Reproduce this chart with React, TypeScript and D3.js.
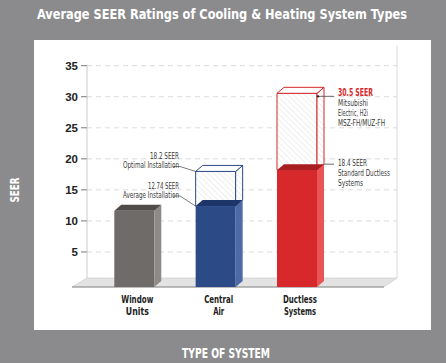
import * as d3 from "d3";

const categories = ["Window Units", "Central Air", "Ductless Systems"];
const categoryLines = [["Window", "Units"], ["Central", "Air"], ["Ductless", "Systems"]];
const categoryWidths = [[32, 23], [29, 11], [34, 32]];
const averageValues = [12, 12.74, 18.4];
const optimalValues = [null, 18.2, 30.5];
const yTicks = [5, 10, 15, 20, 25, 30, 35];

const barColors = [
  { front: "#6f6b69", side: "#8d8a88", top: "#4f4c4a", line: "#6f6b69" },
  { front: "#2c4a86", side: "#4b6aa6", top: "#1d3569", line: "#2c4a86" },
  { front: "#d7282b", side: "#e95457", top: "#a81d20", line: "#d7282b" },
];

const W = 446;
const H = 363;
const floorFront = 287;
const floorBack = 278;
const wallLeft = 87;
const wallRight = 397;
const barW = 40;
const dx = 7;
const dy = -6;

const cond = "'DejaVu Sans Condensed', 'Liberation Sans Narrow', sans-serif";

function Fit(props: { x: number; y: number; w: number; children: string; anchor?: string; size?: number; bold?: boolean; fill?: string }) {
  return (
    <text
      x={props.x}
      y={props.y}
      textAnchor={props.anchor || "start"}
      textLength={props.w}
      lengthAdjust="spacingAndGlyphs"
      fontFamily={cond}
      fontSize={props.size || 8.4}
      fontWeight={props.bold ? "bold" : "normal"}
      fill={props.fill || "#3a3a3a"}
    >
      {props.children}
    </text>
  );
}

export default function App() {
  const yBack = d3.scaleLinear().domain([0, 35]).range([283, 65.7]);
  const yFront = d3.scaleLinear().domain([0, 35]).range([floorFront, floorFront - 35 * 6.35]);
  const x = d3.scalePoint<string>().domain(categories).range([134.3, 297]);

  const box = (i: number, v0: number, v1: number, filled: boolean) => {
    const cx = x(categories[i])!;
    const x0 = cx - barW / 2;
    const x1 = cx + barW / 2;
    const yt = yFront(v1);
    const yb = yFront(v0);
    const c = barColors[i];
    const side = `M${x1},${yt}L${x1 + dx},${yt + dy}L${x1 + dx},${yb + dy}L${x1},${yb}Z`;
    const top = `M${x0},${yt}L${x0 + dx},${yt + dy}L${x1 + dx},${yt + dy}L${x1},${yt}Z`;
    if (filled) {
      return (
        <g key={`b${i}`}>
          <rect x={x0} y={yt} width={barW} height={yb - yt} fill={c.front} />
          <path d={side} fill={c.side} />
          <path d={top} fill={c.top} />
        </g>
      );
    }
    return (
      <g key={`w${i}`} stroke={c.line} strokeWidth={1} strokeLinejoin="round">
        <rect x={x0} y={yt} width={barW} height={yb - yt} fill="url(#hatch)" />
        <path d={side} fill="url(#hatch)" />
        <path d={top} fill="#fff" />
      </g>
    );
  };

  const central = x(categories[1])!;
  const ductless = x(categories[2])!;

  return (
    <svg width={W} height={H} style={{ position: "absolute", left: 0, top: 0 }}>
      <defs>
        <pattern id="hatch" width={4} height={4} patternUnits="userSpaceOnUse" patternTransform="rotate(-45)">
          <rect width={4} height={4} fill="#fff" />
          <line x1={0} y1={0} x2={0} y2={4} stroke="#d4d4d4" strokeWidth={0.8} />
        </pattern>
      </defs>
      <rect width={W} height={H} fill="#8b8b8d" />
      <Fit x={222} y={18.5} w={370} anchor="middle" size={14.5} bold fill="#fff">
        Average SEER Ratings of Cooling &amp; Heating System Types
      </Fit>
      <rect x={34} y={40} width={397} height={290} fill="#fff" />
      <text transform="translate(19,190) rotate(-90)" textAnchor="middle" fill="#fff" fontFamily={cond} fontWeight="bold" fontSize={12} textLength={25} lengthAdjust="spacingAndGlyphs">
        SEER
      </text>
      <Fit x={226} y={358} w={88} anchor="middle" size={14} bold fill="#fff">
        TYPE OF SYSTEM
      </Fit>

      {/* back wall grid */}
      {yTicks.map((t) => (
        <g key={t}>
          <line x1={wallLeft} x2={wallRight} y1={yBack(t)} y2={yBack(t)} stroke="#d2d2d2" strokeDasharray="5,4" strokeWidth={0.8} />
          <line x1={wallLeft - 6} x2={wallLeft} y1={yBack(t)} y2={yBack(t)} stroke="#555" strokeWidth={0.8} />
          <text x={wallLeft - 9} y={yBack(t) + 4} textAnchor="end" fontFamily="'Liberation Sans', Arial, sans-serif" fontWeight="bold" fontSize={11.5} fill="#222">
            {t}
          </text>
        </g>
      ))}
      <line x1={wallLeft} x2={wallLeft} y1={yBack(35) - 1} y2={floorBack} stroke="#bdbdbd" strokeWidth={0.8} />
      <line x1={wallRight} x2={wallRight} y1={yBack(35) - 20} y2={floorBack} stroke="#d0d0d0" strokeWidth={0.8} />

      {/* floor */}
      <path d={`M${wallLeft},${floorBack}L${wallRight},${floorBack}L${wallRight - 13},${floorFront}L${wallLeft - 15},${floorFront}Z`} fill="#e3e3e3" stroke="#c8c8c8" strokeWidth={0.6} />
      <line x1={wallLeft - 15} x2={wallRight - 13} y1={floorFront} y2={floorFront} stroke="#8a8a8a" strokeWidth={1} />

      {/* optimal wireframes */}
      {optimalValues.map((v, i) => (v == null ? null : box(i, averageValues[i], v, false)))}
      {/* average bars */}
      {averageValues.map((v, i) => box(i, 0, v, true))}

      {/* central air annotations */}
      <Fit x={179} y={158.5} w={29} anchor="end">18.2 SEER</Fit>
      <Fit x={179} y={168} w={56} anchor="end">Optimal Installation</Fit>
      <Fit x={179} y={189} w={31} anchor="end">12.74 SEER</Fit>
      <Fit x={179} y={198} w={56} anchor="end">Average Installation</Fit>
      <path d={`M173,166.5H${180}L${central - barW / 2},${yFront(18.2)}`} fill="none" stroke="#444" strokeWidth={0.7} />
      <path d={`M173,196H${180}L${central - barW / 2},${yFront(12.74)}`} fill="none" stroke="#444" strokeWidth={0.7} />

      {/* ductless annotations */}
      <Fit x={338} y={96} w={35} size={11} bold fill="#d7282b">30.5 SEER</Fit>
      <Fit x={338} y={106} w={30}>Mitsubishi</Fit>
      <Fit x={338} y={116} w={30}>Electric, H2i</Fit>
      <Fit x={338} y={126} w={47}>MSZ-FH/MUZ-FH</Fit>
      <Fit x={338} y={166} w={29}>18.4 SEER</Fit>
      <Fit x={338} y={176} w={52}>Standard Ductless</Fit>
      <Fit x={338} y={186} w={25}>Systems</Fit>
      <line x1={ductless + barW / 2 + 1} x2={334} y1={yFront(30.5) + 3} y2={yFront(30.5) + 3} stroke="#444" strokeWidth={0.8} />
      <circle cx={ductless + barW / 2 + 1} cy={yFront(30.5) + 3} r={1.2} fill="#222" />
      <line x1={ductless + barW / 2 + dx} x2={334} y1={yFront(18.4) - 6} y2={yFront(18.4) - 6} stroke="#444" strokeWidth={0.8} />

      {/* category labels */}
      {categoryLines.map((lines, i) =>
        lines.map((l, j) => (
          <Fit key={`${i}-${j}`} x={x(categories[i])! + 3} y={303 + j * 12} w={categoryWidths[i][j]} anchor="middle" size={11} bold fill="#222">
            {l}
          </Fit>
        ))
      )}
    </svg>
  );
}
